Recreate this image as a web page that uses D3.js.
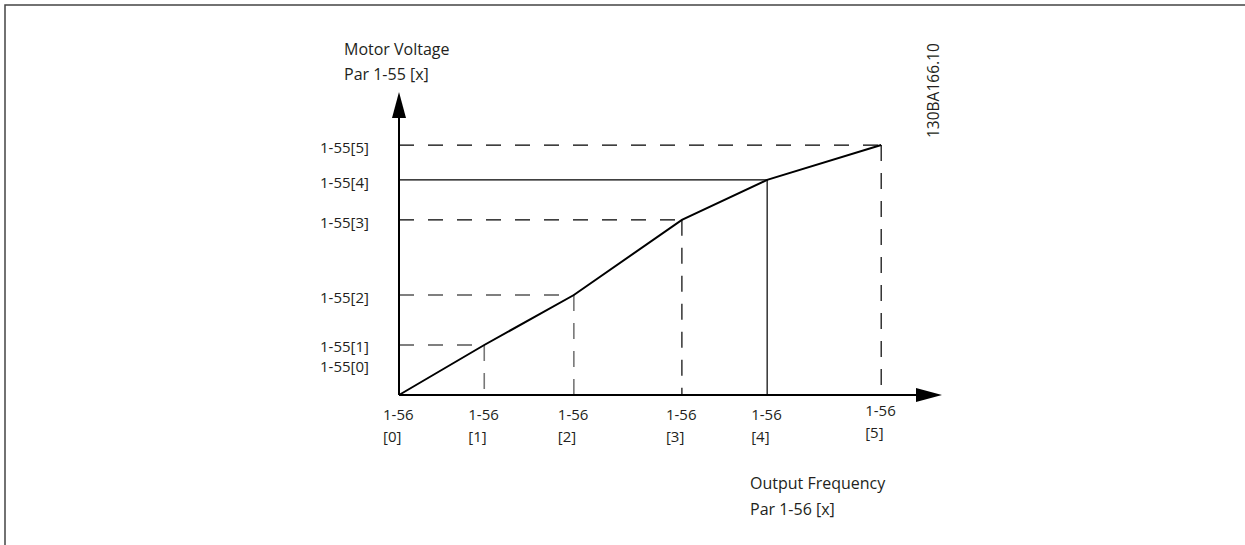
<!DOCTYPE html>
<html>
<head>
<meta charset="utf-8">
<script src="https://cdn.jsdelivr.net/npm/d3@7"></script>
<style>
  body { margin: 0; background: #fff; }
  svg text { font-family: "Open Sans", sans-serif; font-size: 15px; fill: #231f20; }
  svg text.title { font-size: 16px; }
</style>
</head>
<body>
<svg id="chart" width="1245" height="545"></svg>
<script>
// breakpoints of the V/f curve, index 0..5 (arbitrary % units)
var point_idx = [0, 1, 2, 3, 4, 5];
var freq_vals = [0, 15.7, 32.2, 52.1, 67.8, 88.8];
var volt_vals = [0, 16.5, 33, 57.8, 71, 82.5];
var x_labels = ["1-56", "1-56", "1-56", "1-56", "1-56", "1-56"];
var x_sub = ["[0]", "[1]", "[2]", "[3]", "[4]", "[5]"];
var y_labels = ["1-55[0]", "1-55[1]", "1-55[2]", "1-55[3]", "1-55[4]", "1-55[5]"];
// which guide lines are drawn solid (the rest are dashed)
var solid_guides = [4];
var grey_vdash = [1, 2];

var svg = d3.select("#chart");
var x = d3.scaleLinear().domain([0, 100]).range([399, 942]);
var y = d3.scaleLinear().domain([0, 100]).range([395, 92]);

// frame (top + left)
svg.append("path").attr("d", "M5,545V5H1245").attr("fill", "none").attr("stroke", "#444").attr("stroke-width", 1.5);

var pts = point_idx.map(function(i) { return {i: i, f: freq_vals[i], v: volt_vals[i]}; });

// horizontal guides
svg.selectAll(".hg").data(pts.filter(function(d) { return d.i > 0; })).enter().append("line")
  .attr("x1", x(0)).attr("x2", function(d) { return x(d.f); })
  .attr("y1", function(d) { return y(d.v); }).attr("y2", function(d) { return y(d.v); })
  .attr("stroke", "#000").attr("stroke-width", 1.2)
  .attr("stroke-dasharray", function(d) { return solid_guides.indexOf(d.i) >= 0 ? null : "15,14"; });

// vertical guides
svg.selectAll(".vg").data(pts.filter(function(d) { return d.i > 0; })).enter().append("line")
  .attr("x1", function(d) { return x(d.f); }).attr("x2", function(d) { return x(d.f); })
  .attr("y1", function(d) { return y(d.v); }).attr("y2", y(0))
  .attr("stroke", function(d) { return grey_vdash.indexOf(d.i) >= 0 ? "#777" : "#000"; })
  .attr("stroke-width", function(d) { return grey_vdash.indexOf(d.i) >= 0 ? 1.6 : 1.2; })
  .attr("stroke-dasharray", function(d) { return solid_guides.indexOf(d.i) >= 0 ? null : "16,12"; });

// curve
svg.append("path").datum(pts)
  .attr("d", d3.line().x(function(d) { return x(d.f); }).y(function(d) { return y(d.v); }))
  .attr("fill", "none").attr("stroke", "#000").attr("stroke-width", 2);

// axes
svg.append("line").attr("x1", x(0)).attr("x2", x(100) - 20).attr("y1", y(0)).attr("y2", y(0)).attr("stroke", "#000").attr("stroke-width", 2);
svg.append("line").attr("x1", x(0)).attr("x2", x(0)).attr("y1", y(0)).attr("y2", y(100) + 20).attr("stroke", "#000").attr("stroke-width", 2);
svg.append("path").attr("d", "M" + x(100) + "," + y(0) + "l-26,-7v14z").attr("fill", "#000");
svg.append("path").attr("d", "M" + x(0) + "," + y(100) + "l-7,26h14z").attr("fill", "#000");

// y tick labels
svg.selectAll(".yl").data(pts).enter().append("text")
  .attr("x", 369).attr("text-anchor", "end")
  .attr("y", function(d) { return d.i == 0 ? y(d.v) - 23 : (d.i == 1 ? y(d.v) + 7 : y(d.v) + 8); })
  .text(function(d) { return y_labels[d.i]; });

// x tick labels
var xl = svg.selectAll(".xl").data(pts).enter().append("g")
  .attr("transform", function(d) { return "translate(" + (x(d.f) - 16) + "," + (d.i == 5 ? 416 : 420) + ")"; });
xl.append("text").text(function(d) { return x_labels[d.i]; });
xl.append("text").attr("y", 22).text(function(d) { return x_sub[d.i]; });

// axis titles
svg.append("text").attr("class", "title").attr("x", 344).attr("y", 55).text("Motor Voltage");
svg.append("text").attr("class", "title").attr("x", 344).attr("y", 80).text("Par 1-55 [x]");
svg.append("text").attr("class", "title").attr("x", 750).attr("y", 489).text("Output Frequency");
svg.append("text").attr("class", "title").attr("x", 750).attr("y", 515).text("Par 1-56 [x]");

// drawing id
svg.append("text").attr("transform", "translate(939,138) rotate(-90)").style("font-size", "15.5px").text("130BA166.10");
</script>
</body>
</html>
